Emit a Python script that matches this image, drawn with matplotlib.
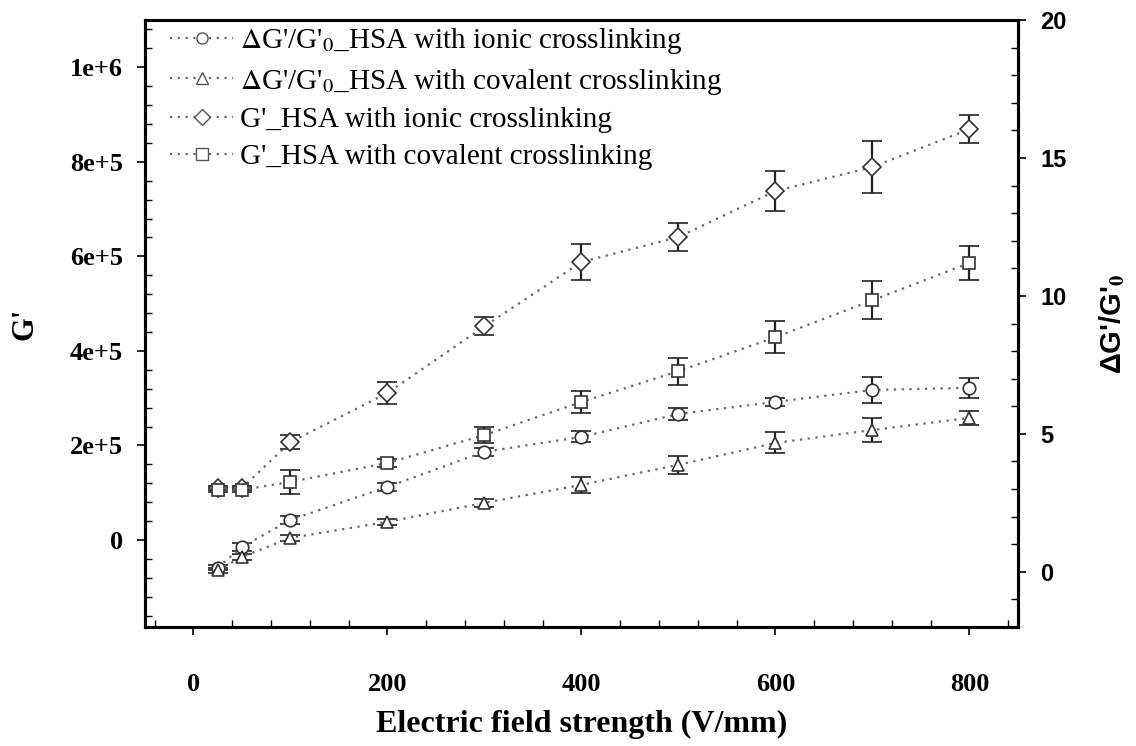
import matplotlib
matplotlib.use('Agg')
import matplotlib.pyplot as plt
from matplotlib.ticker import MultipleLocator, FixedLocator
from matplotlib.lines import Line2D

# data
field = [25, 50, 100, 200, 300, 400, 500, 600, 700, 800]

# G' (left axis)
g_ionic = [1.10e5, 1.10e5, 2.07e5, 3.11e5, 4.52e5, 5.88e5, 6.41e5, 7.38e5, 7.89e5, 8.69e5]
g_ionic_err = [5e3, 5e3, 1.5e4, 2.4e4, 1.9e4, 3.9e4, 3.0e4, 4.3e4, 5.5e4, 3.0e4]
g_cov = [1.06e5, 1.06e5, 1.23e5, 1.63e5, 2.22e5, 2.92e5, 3.57e5, 4.29e5, 5.07e5, 5.86e5]
g_cov_err = [5e3, 5e3, 2.5e4, 8e3, 1.7e4, 2.3e4, 2.9e4, 3.4e4, 4.0e4, 3.6e4]

# dG'/G'0 (right axis)
dg_ionic = [0.15, 0.9, 1.88, 3.08, 4.35, 4.89, 5.72, 6.16, 6.59, 6.67]
dg_ionic_err = [0.1, 0.15, 0.15, 0.15, 0.15, 0.2, 0.2, 0.15, 0.47, 0.36]
dg_cov = [0.05, 0.54, 1.23, 1.81, 2.5, 3.15, 3.88, 4.67, 5.14, 5.58]
dg_cov_err = [0.1, 0.1, 0.1, 0.1, 0.15, 0.29, 0.33, 0.38, 0.43, 0.25]

left_ticks = [0, 2e5, 4e5, 6e5, 8e5, 1e6]
left_labels = ['0', '2e+5', '4e+5', '6e+5', '8e+5', '1e+6']

labels = [r"$\Delta$G'/G'$_{0}$_HSA with ionic crosslinking",
          r"$\Delta$G'/G'$_{0}$_HSA with covalent crosslinking",
          "G'_HSA with ionic crosslinking",
          "G'_HSA with covalent crosslinking"]

plt.rcParams['mathtext.fontset'] = 'stix'
serif = 'Liberation Serif'
sans = 'Liberation Sans'

fig = plt.figure(figsize=(11.36, 7.46), dpi=100)
ax = fig.add_axes([0.1276, 0.1595, 0.896 - 0.1276, 0.9732 - 0.1595])
ax2 = ax.twinx()

line_kw = dict(color='#666666', linestyle=(0, (1, 2.5)), linewidth=1.6)
mk_kw = dict(markersize=9, markerfacecolor='white', markeredgecolor='#333333', markeredgewidth=1.2)
err_kw = dict(ecolor='#222222', elinewidth=1.6, capsize=7, capthick=1.8)

ax.errorbar(field, g_ionic, yerr=g_ionic_err, marker='D', **line_kw, **mk_kw, **err_kw, zorder=3)
ax.errorbar(field, g_cov, yerr=g_cov_err, marker='s', **line_kw, **mk_kw, **err_kw, zorder=3)
ax2.errorbar(field, dg_ionic, yerr=dg_ionic_err, marker='o', **line_kw, **mk_kw, **err_kw, zorder=3)
ax2.errorbar(field, dg_cov, yerr=dg_cov_err, marker='^', **line_kw, **mk_kw, **err_kw, zorder=3)

ax.set_xlim(-50, 850)
ax.set_ylim(-1.84e5, 1.1e6)
ax2.set_ylim(-2, 20)

ax.xaxis.set_major_locator(FixedLocator([0, 200, 400, 600, 800]))
ax.xaxis.set_minor_locator(MultipleLocator(40))
ax.yaxis.set_major_locator(FixedLocator(left_ticks))
ax.set_yticklabels(left_labels)
ax.yaxis.set_minor_locator(MultipleLocator(4e4))
ax2.yaxis.set_major_locator(MultipleLocator(5))
ax2.yaxis.set_minor_locator(MultipleLocator(1))

for a in (ax, ax2):
    for s in a.spines.values():
        s.set_linewidth(2.2)
    a.tick_params(which='major', direction='out', length=6, width=1.2)
    a.tick_params(which='minor', direction='in', length=5, width=1.0)
ax.tick_params(top=False, which='both')
ax2.tick_params(left=False, which='both')

for t in ax.get_xticklabels() + ax.get_yticklabels():
    t.set_fontfamily(serif)
    t.set_fontweight('bold')
    t.set_fontsize(19)
for t in ax2.get_yticklabels():
    t.set_fontfamily(sans)
    t.set_fontweight('bold')
    t.set_fontsize(17)
ax.tick_params(axis='x', pad=27)
ax.tick_params(axis='y', pad=10)
ax2.tick_params(axis='y', pad=10)

ax.set_xlabel('Electric field strength (V/mm)', fontfamily=serif, fontweight='bold', fontsize=23, labelpad=10)
ax.set_ylabel("G'", fontfamily=serif, fontweight='bold', fontsize=22, labelpad=22)
ax2.set_ylabel(r"ΔG'/G'$_\mathbf{0}$", fontfamily=sans, fontweight='bold', fontsize=21, labelpad=22)

handles = []
for m in ['o', '^', 'D', 's']:
    handles.append(Line2D([], [], marker=m, **line_kw, markersize=8, markerfacecolor='white',
                          markeredgecolor='#555555', markeredgewidth=1.0))
leg = ax2.legend(handles, labels, loc='upper left', bbox_to_anchor=(0.029, 0.99), frameon=False,
                 prop={'family': serif, 'size': 21}, handlelength=2.15, handletextpad=0.25,
                 labelspacing=0.36, borderaxespad=0, borderpad=0)

fig.savefig('out.png', dpi=100)
